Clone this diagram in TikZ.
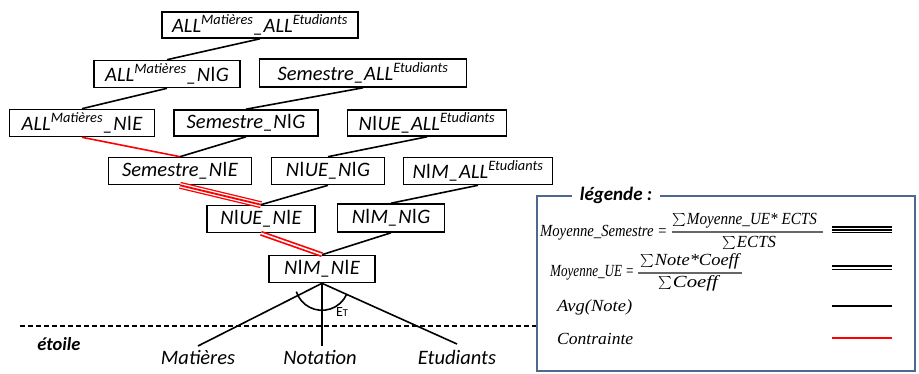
\documentclass[tikz,border=0pt]{standalone}
\usepackage{fontspec}
\usepackage{graphicx}
\setmainfont{Carlito}
\newfontfamily\tnr{Liberation Serif}
\definecolor{legblue}{RGB}{79,104,143}
\newcommand{\vbr}{\kern0.5pt{\upshape l}\kern0.5pt}
\newcommand{\sm}{\raisebox{-1pt}{\scalebox{1.3}{$\sum$}}\kern1pt}
\newcommand{\fitw}[2]{\resizebox{#1pt}{\height}{#2}}
\begin{document}
\begin{tikzpicture}[x=1pt,y=-1pt,
  box/.style={draw, line width=1.6pt, minimum height=26pt, inner sep=0pt,
    font=\fontsize{20.5}{22}\selectfont\itshape},
  lbl/.style={inner sep=0pt, font=\fontsize{20.5}{22}\selectfont\itshape},
  edge/.style={line width=1.6pt},
  redone/.style={draw=red, line width=1.6pt},
  dbl/.style={draw=#1, line width=5pt, postaction={draw=white, line width=1.6pt}},
  trpl/.style={draw=#1, line width=7pt, postaction={draw=white, line width=4.4pt}, postaction={draw=#1, line width=1.8pt}},
  legtext/.style={inner sep=0pt, anchor=base west, font=\fontsize{17}{19}\tnr\itshape},
  fbar/.style={draw=black!60, line width=1.2pt},
]
\useasboundingbox (0,0) rectangle (919,374);

% nodes
\node[box, minimum width=196pt] (n1) at (260,25) {ALL\textsuperscript{Matières}\_ALL\textsuperscript{Etudiants}};
\node[box, minimum width=146pt, minimum height=27pt] (n2) at (167,74) {ALL\textsuperscript{Matières}\_N\vbr G};
\node[box, minimum width=207pt, minimum height=28pt] (n3) at (363,73) {Semestre\_ALL\textsuperscript{Etudiants}};
\node[box, minimum width=145pt, minimum height=27pt] (n4) at (82,123) {ALL\textsuperscript{Matières}\_N\vbr E};
\node[box, minimum width=144pt] (n5) at (246,123) {Semestre\_N\vbr G};
\node[box, minimum width=159pt] (n6) at (427,123) {N\vbr UE\_ALL\textsuperscript{Etudiants}};
\node[box, minimum width=143pt, minimum height=27pt] (n7) at (180,171) {Semestre\_N\vbr E};
\node[box, minimum width=113pt, minimum height=27pt] (n8) at (328,171) {N\vbr UE\_N\vbr G};
\node[box, minimum width=149pt, minimum height=27pt] (n9) at (478,171) {N\vbr M\_ALL\textsuperscript{Etudiants}};
\node[box, minimum width=108pt, minimum height=27pt] (n10) at (261,219) {N\vbr UE\_N\vbr E};
\node[box, minimum width=107pt, minimum height=28pt] (n11) at (391,218) {N\vbr M\_N\vbr G};
\node[box, minimum width=106pt, minimum height=27pt] (n12) at (322,269) {N\vbr M\_N\vbr E};

% edges
\draw[edge] (n1.south) -- (n2.north);
\draw[edge] (n2.south) -- (n4.north);
\draw[edge] (n3.south) -- (n5.north);
\draw[redone] (n4.south) -- (n7.north);
\draw[edge] (n5.south) -- (n7.north);
\draw[edge] (n6.south) -- (n8.north);
\draw[trpl=red] (n7.south) -- (n10.north);
\draw[edge] (n8.south) -- (n10.north);
\draw[edge] (n9.south) -- (n11.north);
\draw[dbl=red] (n10.south) -- (n12.north);
\draw[edge] (n11.south) -- (n12.north);

% star
\coordinate (cmat) at (198,346);
\coordinate (cnot) at (322,346);
\coordinate (cetu) at (457,344);
\draw[edge] (n12.south) -- (cmat);
\draw[edge] (n12.south) -- (cnot);
\draw[edge] (n12.south) -- (cetu);
\draw[edge] (n12.south) ++(162:27) arc[start angle=162, end angle=24, radius=27];
\node[inner sep=0pt] (et) at (342,312) {{\fontsize{14}{14}\selectfont E}{\fontsize{10.5}{10.5}\selectfont T}};

\node[lbl] (mat) at (198,357) {Matières};
\node[lbl] (not) at (320,357) {Notation};
\node[lbl] (etu) at (457,357) {Etudiants};

\draw[line width=1.8pt, dash pattern=on 5pt off 3pt] (20,326) coordinate (d1) -- (537,326) coordinate (d2);
\node[inner sep=0pt, font=\fontsize{18.5}{20}\selectfont\bfseries\itshape] (etoile) at (59,344) {étoile};

% legend
\draw[draw=legblue, line width=2.8pt] (537,196) rectangle (915,371);
\node[fill=white, inner xsep=8pt, inner ysep=2pt, font=\fontsize{19}{21}\selectfont\bfseries\itshape] (legt) at (616,195) {légende :};

% formula 1
\node[legtext] (f1l) at (540,237) {\fitw{127}{Moyenne\_Semestre =}};
\coordinate (b1a) at (672,232); \coordinate (b1b) at (823,232);
\draw[fbar] (b1a) -- (b1b);
\node[legtext] (f1n) at (672,225) {\sm\fitw{130}{Moyenne\_UE* ECTS}};
\node[legtext] (f1d) at (722,248) {\sm\fitw{39}{ECTS}};
% formula 2
\node[legtext] (f2l) at (550,277) {\fitw{84}{Moyenne\_UE =}};
\coordinate (b2a) at (638,273); \coordinate (b2b) at (742,273);
\draw[fbar] (b2a) -- (b2b);
\node[legtext] (f2n) at (640,266) {\sm\fitw{84}{Note*Coeff}};
\node[legtext] (f2d) at (658,288) {\sm\fitw{45}{Coeff}};

\node[legtext, anchor=west] (f3) at (557,307) {\fitw{75}{Avg(Note)}};
\node[legtext, anchor=west] (f4) at (557,339) {\fitw{76}{Contrainte}};

\coordinate (l1a) at (832,230); \coordinate (l1b) at (892,230);
\coordinate (l2a) at (832,268); \coordinate (l2b) at (892,268);
\coordinate (l3a) at (832,306); \coordinate (l3b) at (892,306);
\coordinate (l4a) at (832,338); \coordinate (l4b) at (892,338);
\draw[trpl=black] (l1a) -- (l1b);
\draw[dbl=black] (l2a) -- (l2b);
\draw[edge] (l3a) -- (l3b);
\draw[redone] (l4a) -- (l4b);
\end{tikzpicture}
\end{document}
